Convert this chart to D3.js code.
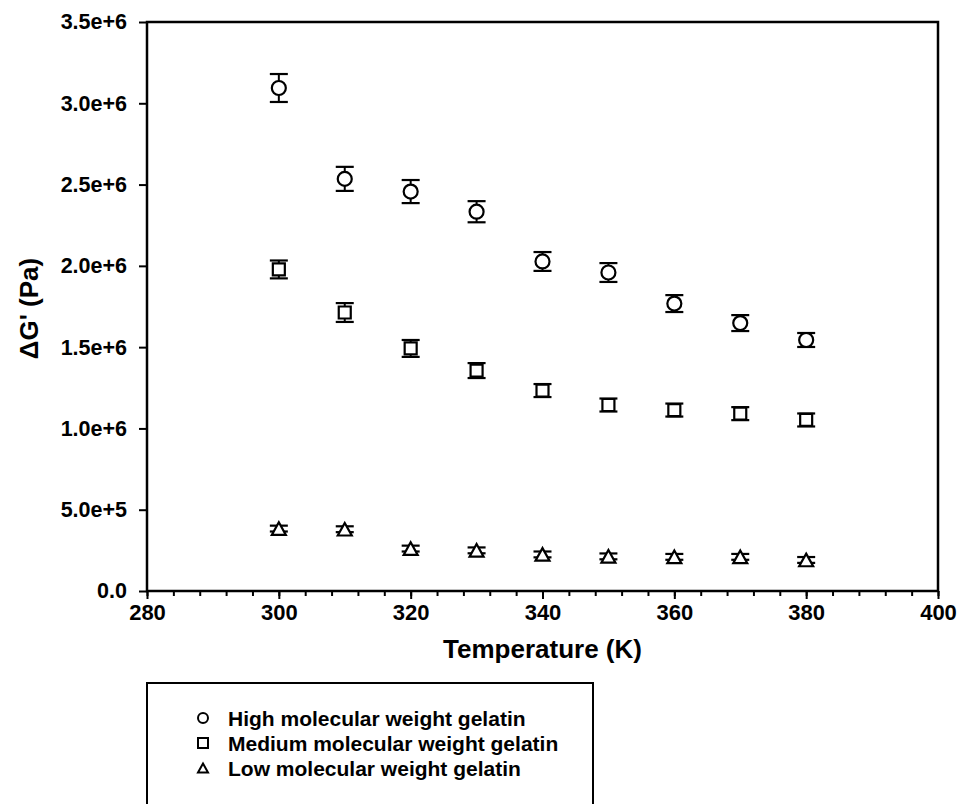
<!DOCTYPE html>
<html>
<head>
<meta charset="utf-8">
<script src="https://cdn.jsdelivr.net/npm/d3@7"></script>
<style>
  html, body { margin: 0; padding: 0; background: #fff; }
  svg { display: block; }
  text { font-family: "Liberation Sans", Arial, sans-serif; font-weight: bold; fill: #000; }
</style>
</head>
<body>
<svg id="chart" width="959" height="804"></svg>
<script>
// Temperature points (K)
const temperatures = [300, 310, 320, 330, 340, 350, 360, 370, 380];

// Storage modulus change ΔG' (Pa) and error bar half-widths for each gelatin grade
const highValues   = [3.094e6, 2.535e6, 2.457e6, 2.333e6, 2.027e6, 1.959e6, 1.768e6, 1.648e6, 1.544e6];
const highErrors   = [0.086e6, 0.074e6, 0.071e6, 0.065e6, 0.058e6, 0.058e6, 0.052e6, 0.049e6, 0.043e6];
const mediumValues = [1.978e6, 1.713e6, 1.492e6, 1.356e6, 1.233e6, 1.144e6, 1.113e6, 1.091e6, 1.052e6];
const mediumErrors = [0.055e6, 0.058e6, 0.052e6, 0.046e6, 0.040e6, 0.040e6, 0.040e6, 0.040e6, 0.040e6];
const lowValues    = [0.384e6, 0.380e6, 0.261e6, 0.250e6, 0.225e6, 0.213e6, 0.210e6, 0.210e6, 0.191e6];
const lowErrors    = [0.018e6, 0.018e6, 0.018e6, 0.018e6, 0.018e6, 0.018e6, 0.018e6, 0.018e6, 0.018e6];

// Axis ticks
const xMajorTicks = [280, 300, 320, 340, 360, 380, 400];
const xMinorTicks = d3.range(280, 401, 4);
const yTickValues = [0, 0.5e6, 1.0e6, 1.5e6, 2.0e6, 2.5e6, 3.0e6, 3.5e6];
const yTickLabels = ["0.0", "5.0e+5", "1.0e+6", "1.5e+6", "2.0e+6", "2.5e+6", "3.0e+6", "3.5e+6"];

const seriesNames = ["High molecular weight gelatin", "Medium molecular weight gelatin", "Low molecular weight gelatin"];
const seriesShapes = ["circle", "square", "triangle"];

const svg = d3.select("#chart");

const plot = { left: 147, right: 938, top: 22, bottom: 591 };
const x = d3.scaleLinear().domain([280, 400]).range([plot.left, plot.right]);
const y = d3.scaleLinear().domain([0, 3.5e6]).range([plot.bottom, plot.top]);

// Minor x ticks
svg.append("g")
  .attr("transform", `translate(0,${plot.bottom})`)
  .call(d3.axisBottom(x).tickValues(xMinorTicks).tickSize(5).tickFormat(""))
  .call(g => g.select(".domain").remove())
  .call(g => g.selectAll("line").attr("stroke", "#000").attr("stroke-width", 2));

// Major x ticks with labels
svg.append("g")
  .attr("transform", `translate(0,${plot.bottom})`)
  .call(d3.axisBottom(x).tickValues(xMajorTicks).tickSize(8).tickPadding(5).tickFormat(d3.format("d")))
  .call(g => g.select(".domain").remove())
  .call(g => g.selectAll("line").attr("stroke", "#000").attr("stroke-width", 2))
  .call(g => g.selectAll("text").style("font-size", "22px").attr("fill", "#000"));

// Y axis ticks with labels
svg.append("g")
  .attr("transform", `translate(${plot.left},0)`)
  .call(d3.axisLeft(y).tickValues(yTickValues).tickSize(8).tickPadding(12)
    .tickFormat((d, i) => yTickLabels[i]))
  .call(g => g.select(".domain").remove())
  .call(g => g.selectAll("line").attr("stroke", "#000").attr("stroke-width", 2))
  .call(g => g.selectAll("text").style("font-size", "21.5px").attr("fill", "#000"));

// Frame around plotting area
svg.append("rect")
  .attr("x", plot.left).attr("y", plot.top)
  .attr("width", plot.right - plot.left).attr("height", plot.bottom - plot.top)
  .attr("fill", "none").attr("stroke", "#000").attr("stroke-width", 2.5);

// Marker paths centred on (0,0)
function markerPath(shape, s) {
  if (shape === "circle") {
    const r = s / 2;
    return `M${-r},0A${r},${r} 0 1,0 ${r},0A${r},${r} 0 1,0 ${-r},0Z`;
  }
  if (shape === "square") {
    const h = s / 2;
    return `M${-h},${-h}H${h}V${h}H${-h}Z`;
  }
  const w = s / 2, h = s * 0.45;
  return `M0,${-h}L${w},${h}L${-w},${h}Z`;
}

const series = [
  { values: highValues, errors: highErrors, shape: "circle", size: 14 },
  { values: mediumValues, errors: mediumErrors, shape: "square", size: 12 },
  { values: lowValues, errors: lowErrors, shape: "triangle", size: 14 }
];

const capHalf = 9;
series.forEach(s => {
  const g = svg.append("g");
  const pts = temperatures.map((t, i) => ({ t, v: s.values[i], e: s.errors[i] }));
  // error bars
  const eb = g.selectAll(".eb").data(pts).join("g").attr("class", "eb");
  eb.append("line")
    .attr("x1", d => x(d.t)).attr("x2", d => x(d.t))
    .attr("y1", d => y(d.v + d.e)).attr("y2", d => y(d.v - d.e))
    .attr("stroke", "#000").attr("stroke-width", 2);
  eb.append("line")
    .attr("x1", d => x(d.t) - capHalf).attr("x2", d => x(d.t) + capHalf)
    .attr("y1", d => y(d.v + d.e)).attr("y2", d => y(d.v + d.e))
    .attr("stroke", "#000").attr("stroke-width", 2.2);
  eb.append("line")
    .attr("x1", d => x(d.t) - capHalf).attr("x2", d => x(d.t) + capHalf)
    .attr("y1", d => y(d.v - d.e)).attr("y2", d => y(d.v - d.e))
    .attr("stroke", "#000").attr("stroke-width", 2.2);
  // markers
  g.selectAll(".mk").data(pts).join("path").attr("class", "mk")
    .attr("transform", d => `translate(${x(d.t)},${y(d.v)})`)
    .attr("d", markerPath(s.shape, s.size))
    .attr("fill", "#fff").attr("stroke", "#000").attr("stroke-width", 2.2);
});

// Axis titles
svg.append("text")
  .attr("x", (plot.left + plot.right) / 2).attr("y", 658)
  .attr("text-anchor", "middle").style("font-size", "26px")
  .text("Temperature (K)");

svg.append("text")
  .attr("transform", `translate(38,${(plot.top + plot.bottom) / 2 + 2}) rotate(-90)`)
  .attr("text-anchor", "middle").style("font-size", "26px")
  .text("ΔG' (Pa)");

// Legend
const legend = svg.append("g");
legend.append("rect")
  .attr("x", 147).attr("y", 683).attr("width", 446).attr("height", 140)
  .attr("fill", "none").attr("stroke", "#000").attr("stroke-width", 2);
seriesNames.forEach((name, i) => {
  const cy = 718 + i * 25;
  legend.append("path")
    .attr("transform", `translate(203,${cy})`)
    .attr("d", markerPath(seriesShapes[i], 10))
    .attr("fill", "#fff").attr("stroke", "#000").attr("stroke-width", 2);
  legend.append("text")
    .attr("x", 228).attr("y", cy + 7.5)
    .style("font-size", "21px")
    .text(name);
});
</script>
</body>
</html>
